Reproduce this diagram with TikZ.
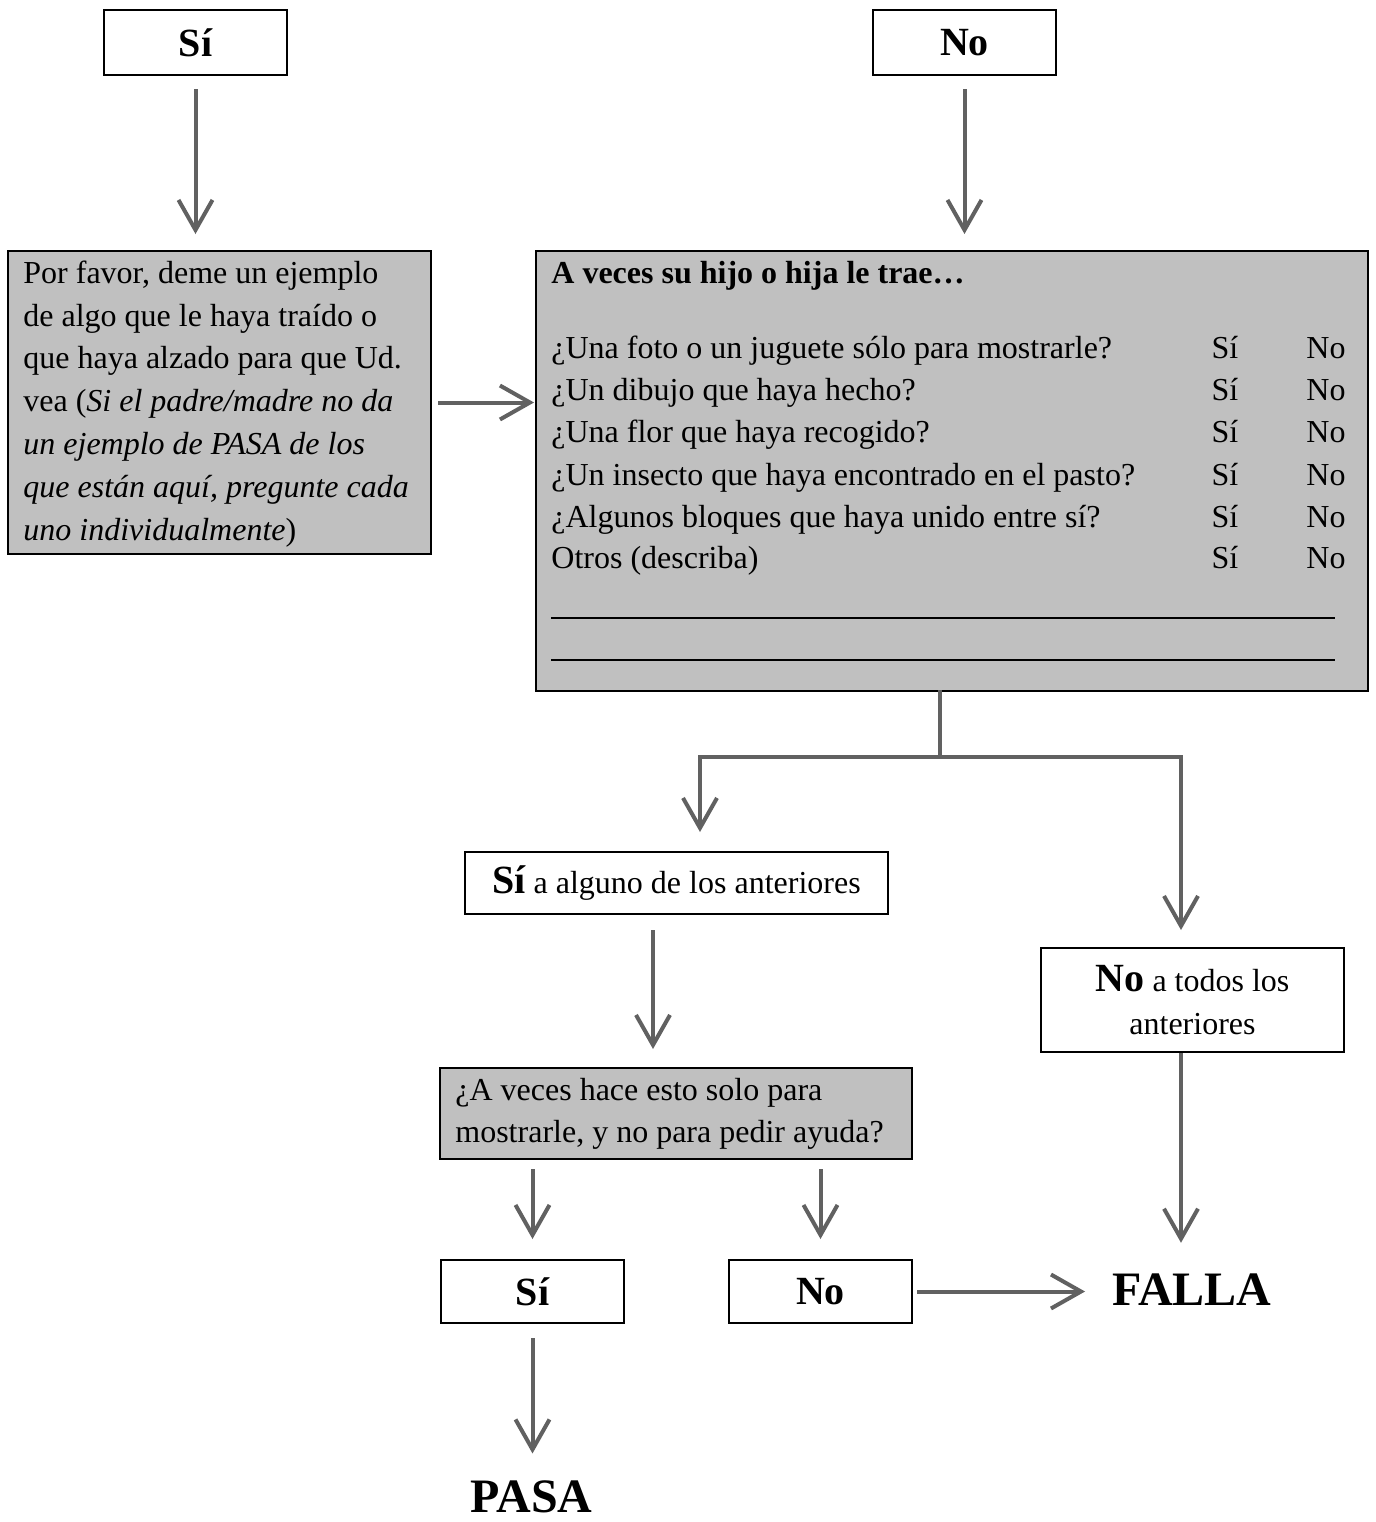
\documentclass[tikz,border=0pt]{standalone}
\usepackage{fontspec}
\setmainfont{Liberation Serif}
\usetikzlibrary{arrows.meta,calc}
\definecolor{boxgray}{HTML}{C0C0C0}
\definecolor{arrowgray}{HTML}{616161}
\begin{document}
\begin{tikzpicture}[x=0.5pt,y=-0.5pt,
  box/.style={draw=black,line width=1pt,rectangle,inner sep=0pt,align=center},
  graybox/.style={box,fill=boxgray},
  body/.style={font=\fontsize{16}{21.4}\selectfont},
  bigbold/.style={font=\fontsize{20}{24}\selectfont\bfseries},
  verdict/.style={font=\fontsize{24}{28}\selectfont\bfseries,inner sep=0pt},
  rowtxt/.style={body,inner sep=0pt},
  conn/.style={draw=arrowgray,line width=2pt,line cap=rect},
  arr/.style={draw=arrowgray,line width=2pt,-{Straight Barb[length=15pt,width=17pt]}},
]
\useasboundingbox (0,0) rectangle (1376,1522);

% top answer boxes
\node[box,bigbold,minimum width=91.5pt,minimum height=32.5pt] (si1) at (195.5,42.5) {Sí};
\node[box,bigbold,minimum width=91.5pt,minimum height=32.5pt] (no1) at (964.5,42.5) {No};

% example request box (multi-line text: base anchor sits on the last line)
\node[graybox,minimum width=211.5pt,minimum height=151.5pt] (ejemplo) at (219.5,402.5) {};
\node[rowtxt,align=left,anchor=base west] (ejtxt) at (23,540)
 {Por favor, deme un ejemplo\\
  de algo que le haya traído o\\
  que haya alzado para que Ud.\\
  vea (\textit{Si el padre/madre no da}\\
  \textit{un ejemplo de PASA de los}\\
  \textit{que están aquí, pregunte cada}\\
  \textit{uno individualmente})};

% checklist box
\node[graybox,minimum width=416pt,minimum height=220pt] (trae) at (952,471) {};
\node[rowtxt,font=\fontsize{16}{21.4}\selectfont\bfseries,anchor=base west] (encab) at (551,283) {A veces su hijo o hija le trae…};
\foreach \y/\t [count=\i] in {358/{¿Una foto o un juguete sólo para mostrarle?},
                              400/{¿Un dibujo que haya hecho?},
                              442/{¿Una flor que haya recogido?},
                              485/{¿Un insecto que haya encontrado en el pasto?},
                              527/{¿Algunos bloques que haya unido entre sí?},
                              568/{Otros (describa)}}{
  \node[rowtxt,anchor=base west] (q\i) at (551,\y) {\t};
  \node[rowtxt,anchor=base] (qs\i) at (1225,\y) {Sí};
  \node[rowtxt,anchor=base] (qn\i) at (1326,\y) {No};
}
\draw[line width=0.6pt] (551,618) -- (1335,618);
\draw[line width=0.6pt] (551,660) -- (1335,660);

% outcome boxes
\node[box,body,minimum width=211.5pt,minimum height=31pt] (sia) at (676.5,883)
 {{\fontsize{20}{24}\selectfont\bfseries Sí} a alguno de los anteriores};
\node[box,body,minimum width=151.5pt,minimum height=52pt] (nota) at (1192.5,1000)
 {{\fontsize{20}{24}\selectfont\bfseries No} a todos los\\anteriores};
\node[graybox,minimum width=236pt,minimum height=45.5pt] (quest) at (676,1113.5) {};
\node[rowtxt,align=left,anchor=base west,font=\fontsize{16}{21}\selectfont] (qtxt) at (455,1142)
 {¿A veces hace esto solo para\\mostrarle, y no para pedir ayuda?};
\node[box,bigbold,minimum width=91.5pt,minimum height=31.5pt] (sib) at (532.5,1291.5) {Sí};
\node[box,bigbold,minimum width=91.5pt,minimum height=31.5pt] (nob) at (820.5,1291.5) {No};
\node[verdict] (falla) at (1192,1290) {FALLA};
\node[verdict] (pasa) at (531.5,1497) {PASA};

% connectors
\draw[arr,shorten <=6.5pt,shorten >=8pt] (si1) -- (ejemplo.north -| si1);
\draw[arr,shorten <=6.5pt,shorten >=8pt] (no1) -- (trae.north -| no1);
\draw[arr,shorten <=3pt,shorten >=0.5pt] (ejemplo.east) -- (trae.west |- ejemplo.east);

\coordinate (split) at (940,757);
\coordinate (jl) at (700,757);
\coordinate (jr) at (1181,757);
\draw[conn] (trae.south -| split) -- (split);
\draw[conn] (jl) -- (jr);
\draw[arr,shorten >=9.5pt] (jl) -- (sia.north -| jl);
\draw[arr,shorten >=8.5pt] (jr) -- (nota.north -| jr);

\coordinate (c1) at ([xshift=-11.75pt]sia.south);
\draw[arr,shorten <=7.5pt,shorten >=9pt] (c1) -- (c1 |- quest.north);
\draw[arr,shorten <=4.5pt,shorten >=10pt] (quest.south -| sib) -- (sib);
\draw[arr,shorten <=4.5pt,shorten >=10pt] (quest.south -| nob) -- (nob);
\draw[arr,shorten <=2pt,shorten >=13.5pt] (nob.east) -- (nob.east -| falla.west);
\draw[arr,shorten >=15.5pt] (nota.south -| jr) -- (falla.north -| jr);
\draw[arr,shorten <=7pt,shorten >=13.5pt] (sib) -- (sib |- pasa.north);
\end{tikzpicture}
\end{document}
